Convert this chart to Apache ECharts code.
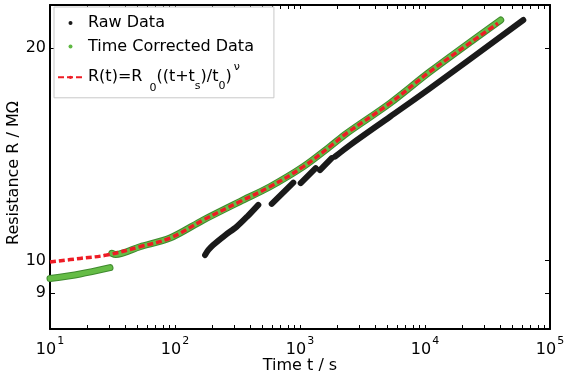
<!DOCTYPE html>
<html>
<head>
<meta charset="utf-8">
<script src="https://cdn.jsdelivr.net/npm/echarts@6/dist/echarts.min.js"></script>
<style>
html, body { margin: 0; padding: 0; background: #fff; }
#main { width: 567px; height: 380px; }
</style>
</head>
<body>
<div id="main"></div>
<script>
// values (t in s, R in MOhm); null = gap in the record
var rawTime = [174, 185, 202, 250, 312, 380, 464, null, 594, 884, null, 1013, 1335, null, 1445, 1793, null, 1905, 2512, 5248, 10965, 61150];
var rawRes  = [10.18, 10.35, 10.52, 10.85, 11.17, 11.55, 11.99, null, 12.03, 12.89, null, 12.87, 13.51, null, 13.43, 13.96, null, 14.03, 14.57, 15.98, 17.53, 21.90];

var corrTime = [10, 17.4, 30.2, null, 31.2, 33.5, 52.5, 91.2, 168, 331, 575, 1063, 1738, 2363, 5248, 10965, 40330];
var corrRes  = [9.43, 9.57, 9.77, null, 10.24, 10.20, 10.46, 10.76, 11.41, 12.12, 12.72, 13.58, 14.50, 15.14, 16.70, 18.51, 21.90];

var fitTime = [10, 17.4, 28.4, 52.5, 91.2, 168, 331, 575, 1063, 1738, 2363, 5248, 10965, 38370];
var fitRes  = [9.95, 10.07, 10.18, 10.46, 10.76, 11.41, 12.12, 12.72, 13.58, 14.50, 15.14, 16.70, 18.51, 21.67];

var xMajor = [10, 100, 1000, 10000, 100000];
var yTicks = [9, 10, 20];

var xTicks = xMajor.slice();
[10, 100, 1000, 10000].forEach(function (d) {
  for (var k = 2; k <= 9; k++) xTicks.push(d * k);
});

function lg(v) { return Math.log10(v); }
function pairs(ts, rs) {
  return ts.map(function (t, i) {
    if (t == null || rs[i] == null) return ['-', '-'];
    return [lg(t), lg(rs[i])];
  });
}

var font = "'DejaVu Sans', sans-serif";
var axisLine = { show: true, onZero: false, lineStyle: { color: '#000', width: 2 } };

var chart = echarts.init(document.getElementById('main'));

var option = {
  animation: false,
  backgroundColor: '#fff',
  grid: { left: 50, right: 17, top: 5, bottom: 51, outerBoundsMode: 'none' },
  legend: {
    orient: 'vertical',
    left: 54, top: 7,
    padding: [6, 20, 3, 3],
    itemWidth: 25, itemHeight: 4, itemGap: 3.4,
    borderColor: '#c8c8c8', borderWidth: 1,
    backgroundColor: '#fff',
    data: [
      { name: 'Raw Data', icon: 'circle' },
      { name: 'Time Corrected Data', icon: 'circle' },
      { name: 'fit' }
    ],
    formatter: function (name) {
      if (name === 'fit') {
        return '{b|R(t)=R}{sub|0}{b|((t+t}{sub2|s}{b|)/t}{sub2|0}{b|)}{sup|\u03bd}';
      }
      return name;
    },
    textStyle: {
      fontFamily: font, fontSize: 16, color: '#000', lineHeight: 20,
      rich: {
        b: { fontFamily: font, fontSize: 16, color: '#000', lineHeight: 35 },
        sub: { fontFamily: font, fontSize: 11, color: '#000', lineHeight: 35, padding: [22, 0, 0, 7] },
        sub2: { fontFamily: font, fontSize: 11, color: '#000', lineHeight: 35, padding: [18, 0, 0, 0] },
        sup: { fontFamily: font, fontSize: 11, color: '#000', lineHeight: 35, padding: [0, 0, 20, 2] }
      }
    }
  },
  xAxis: [
    {
      type: 'value', position: 'bottom', min: 1, max: 5,
      axisLine: axisLine,
      axisTick: { show: true, inside: true, length: 4, customValues: xTicks.map(lg),
        lineStyle: { color: '#000', width: 1 } },
      axisLabel: {
        show: true, margin: 6, customValues: xMajor.map(lg),
        formatter: function (v) { return '{b|10}{e|' + Math.round(v) + '}'; },
        rich: {
          b: { fontFamily: font, fontSize: 16, color: '#000', lineHeight: 30 },
          e: { fontFamily: font, fontSize: 11, color: '#000', lineHeight: 30, padding: [0, 0, 17, 1] }
        }
      },
      splitLine: { show: false },
      name: 'Time t / s', nameLocation: 'middle', nameGap: 29, nameMoveOverlap: false,
      nameTextStyle: { fontFamily: font, fontSize: 16, color: '#000' }
    },
    {
      type: 'value', position: 'top', min: 1, max: 5,
      axisLine: axisLine,
      axisTick: { show: true, inside: true, length: 4, customValues: xTicks.map(lg),
        lineStyle: { color: '#000', width: 1 } },
      axisLabel: { show: false },
      splitLine: { show: false }
    }
  ],
  yAxis: [
    {
      type: 'value', position: 'left', min: lg(8), max: lg(23),
      axisLine: axisLine,
      axisTick: { show: true, inside: true, length: 5, customValues: yTicks.map(lg),
        lineStyle: { color: '#000', width: 1 } },
      axisLabel: {
        show: true, margin: 4, customValues: yTicks.map(lg),
        fontFamily: font, fontSize: 16, color: '#000',
        formatter: function (v) { return String(Math.round(Math.pow(10, v))); }
      },
      splitLine: { show: false },
      name: 'Resistance R / M\u03a9', nameLocation: 'middle', nameGap: 28, nameMoveOverlap: false,
      nameTextStyle: { fontFamily: font, fontSize: 16, color: '#000', padding: [0, 12, 0, 0] }
    },
    {
      type: 'value', position: 'right', min: lg(8), max: lg(23),
      axisLine: axisLine,
      axisTick: { show: true, inside: true, length: 5, customValues: yTicks.map(lg),
        lineStyle: { color: '#000', width: 1 } },
      axisLabel: { show: false },
      splitLine: { show: false }
    }
  ],
  series: [
    {
      name: 'Raw Data', type: 'line', data: pairs(rawTime, rawRes),
      symbol: 'none', smooth: 0.3, connectNulls: false,
      itemStyle: { color: '#1a1a1a' },
      lineStyle: { color: '#1a1a1a', width: 6, cap: 'round', join: 'round' }
    },
    {
      name: 'corr-edge', type: 'line', data: pairs(corrTime, corrRes),
      symbol: 'none', smooth: 0.3, connectNulls: false,
      itemStyle: { color: '#3f8a2e' },
      lineStyle: { color: '#3f8a2e', width: 7, cap: 'round', join: 'round' }
    },
    {
      name: 'Time Corrected Data', type: 'line', data: pairs(corrTime, corrRes),
      symbol: 'none', smooth: 0.3, connectNulls: false,
      itemStyle: { color: '#5fb843' },
      lineStyle: { color: '#65bc46', width: 5, cap: 'round', join: 'round' }
    },
    {
      name: 'fit', type: 'line', data: pairs(fitTime, fitRes),
      symbol: 'none', smooth: 0.4,
      itemStyle: { color: '#ee1c25' },
      lineStyle: { color: '#ee1c25', width: 3.5, type: [6, 3] }
    }
  ]
};

chart.setOption(option);
</script>
</body>
</html>
